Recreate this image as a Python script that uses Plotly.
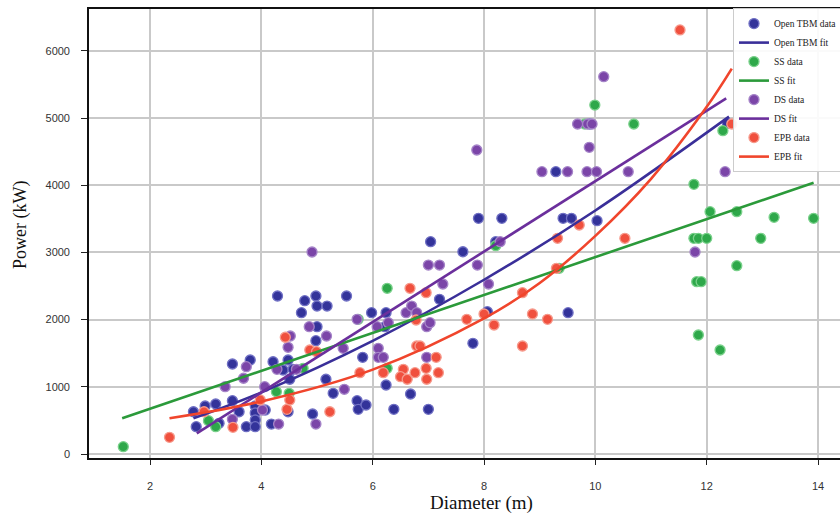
import plotly.graph_objects as go

# ---- data ----
open_x = [2.78, 2.83, 2.99, 3.18, 3.24, 3.48, 3.48, 3.60, 3.73, 3.80, 3.89, 3.89, 3.89, 3.89,
          4.07, 4.18, 4.21, 4.29, 4.39, 4.48, 4.48, 4.51, 4.57, 4.72, 4.78, 4.92, 4.98, 4.98,
          5.00, 5.00, 5.16, 5.18, 5.29, 5.53, 5.72, 5.74, 5.82, 5.88, 5.98, 6.22, 6.24, 6.24,
          6.38, 6.68, 7.00, 7.04, 7.20, 7.62, 7.80, 7.90, 8.06, 8.21, 8.32, 9.29, 9.42, 9.57,
          9.51, 9.90, 10.03, 12.37]
open_y = [629, 406, 714, 744, 457, 793, 1339, 629, 406, 1399, 714, 610, 506, 406,
          655, 446, 1373, 2351, 1250, 1399, 629, 1112, 1260, 2103, 2281, 595, 2351, 1686,
          2202, 1894, 1112, 2202, 903, 2351, 793, 665, 1439, 729, 2103, 1894, 2103, 1027,
          665, 893, 665, 3159, 2302, 3010, 1647, 3507, 2118, 3159, 3507, 4201, 3507, 3507,
          2103, 4911, 3472, 4921]

ss_x = [1.52, 3.05, 3.18, 4.27, 4.50, 4.75, 5.74, 6.26, 6.26, 8.21, 9.35, 9.81, 9.99,
        10.69, 12.29, 11.77, 12.06, 12.54, 13.21, 13.92, 11.77, 11.85, 12.00, 12.97, 12.54,
        11.82, 11.90, 11.85, 12.24]
ss_y = [109, 496, 406, 927, 903, 1275, 2004, 2466, 1275, 3100, 2763, 4911, 5193,
        4911, 4812, 4013, 3606, 3606, 3522, 3507, 3209, 3209, 3209, 3209, 2802,
        2564, 2564, 1771, 1548]

ds_x = [3.35, 3.48, 3.68, 3.73, 4.02, 4.06, 4.28, 4.31, 4.48, 4.52, 4.63, 4.86, 4.91, 4.98,
        5.17, 5.47, 5.49, 5.72, 6.08, 6.10, 6.10, 6.19, 6.28, 6.60, 6.70, 6.79, 6.97, 7.03,
        6.97, 7.00, 7.20, 7.26, 7.87, 7.88, 8.08, 8.29, 9.04, 9.50, 9.68, 9.86, 9.94, 9.89,
        9.85, 10.02, 10.15, 10.59, 11.79, 12.33]
ds_y = [1002, 516, 1127, 1299, 655, 1002, 1260, 446, 1588, 1756, 1260, 1894, 3006, 446,
        1756, 1573, 963, 2004, 1894, 1573, 1439, 1439, 1954, 2103, 2202, 2103, 1894, 1954,
        1439, 2812, 2812, 2530, 4524, 2812, 2530, 3159, 4201, 4201, 4911, 4911, 4911, 4564,
        4201, 4201, 5615, 4201, 3006, 4201]

epb_x = [2.35, 2.97, 3.49, 3.98, 4.46, 4.51, 4.43, 4.87, 4.99, 5.23, 5.77, 6.19, 6.55, 6.50,
         6.62, 6.76, 6.96, 6.97, 7.18, 6.79, 6.85, 7.14, 6.78, 6.67, 6.96, 7.69, 8.00, 8.18,
         8.87, 9.14, 8.69, 8.69, 9.30, 9.32, 9.71, 10.53, 11.52, 12.45]
epb_y = [248, 629, 397, 804, 665, 804, 1737, 1548, 1522, 629, 1210, 1210, 1260, 1150,
         1112, 1210, 1275, 1112, 1210, 1607, 1607, 1439, 1994, 2466, 2400, 2004, 2083, 1920,
         2083, 2004, 2400, 1607, 2763, 3210, 3408, 3210, 6310, 4911]

# fitted curves
open_fit_x = [2.78, 4, 6, 8, 10, 12.4]
open_fit_y = [531, 917, 1684, 2593, 3624, 5020]
ss_fit_x = [1.5, 13.92]
ss_fit_y = [531, 4037]
ds_fit_x = [2.84, 12.35]
ds_fit_y = [308, 5293]
epb_fit_x = [2.35, 4, 6, 8, 9, 10, 11, 12, 12.45]
epb_fit_y = [531, 782, 1256, 2018, 2545, 3246, 4095, 5166, 5735]

x_ticks = [2, 4, 6, 8, 10, 12, 14]
y_ticks = [0, 1000, 2000, 3000, 4000, 5000, 6000]

# ---- styles ----
series = [
    ("Open TBM", open_x, open_y, open_fit_x, open_fit_y, "#33339a", "#7070c4", "#3a2f99"),
    ("SS", ss_x, ss_y, ss_fit_x, ss_fit_y, "#2ea84a", "#79d08a", "#2b9a3a"),
    ("DS", ds_x, ds_y, ds_fit_x, ds_fit_y, "#7b45a8", "#a584c8", "#6b2f9c"),
    ("EPB", epb_x, epb_y, epb_fit_x, epb_fit_y, "#f0503e", "#f69a8c", "#f0452c"),
]

marker_traces, line_traces = [], []
rank = 1
for name, dx, dy, fx, fy, fill, edge, lc in series:
    marker_traces.append(go.Scatter(
        x=dx, y=dy, mode="markers", name=f"{name} data",
        marker=dict(size=10, color=fill, line=dict(color=edge, width=1.3)),
        legendrank=rank))
    rank += 1
    line_traces.append(go.Scatter(
        x=fx, y=fy, mode="lines", name=f"{name} fit",
        line=dict(color=lc, width=2.6, shape="spline"),
        legendrank=rank))
    rank += 1

fig = go.Figure(data=marker_traces + line_traces)

serif = "Liberation Serif, Times New Roman, serif"
tickfont = dict(family="Liberation Sans, Arial, sans-serif", size=11, color="#333333")
fig.update_layout(
    width=840, height=513,
    margin=dict(l=89, r=0, t=9, b=55, autoexpand=False),
    paper_bgcolor="white", plot_bgcolor="white",
    showlegend=True,
    legend=dict(x=0.8575, y=1.002, xanchor="left", yanchor="top",
                bgcolor="rgba(255,255,255,0.9)", bordercolor="#cccccc", borderwidth=1,
                font=dict(family=serif, size=9.5, color="#222222"),
                tracegroupgap=0, itemwidth=30),
    xaxis=dict(range=[0.904, 14.394], tickvals=x_ticks, ticktext=[str(v) for v in x_ticks],
               showgrid=True, gridcolor="#c9c9c9", gridwidth=1.5,
               showline=True, linecolor="#111111", linewidth=1.6, mirror=True,
               ticks="outside", ticklen=5, tickcolor="#222222", tickfont=tickfont,
               ticklabelstandoff=12, zeroline=False),
    yaxis=dict(range=[-59.5, 6622], tickvals=y_ticks, ticktext=[str(v) for v in y_ticks],
               showgrid=True, gridcolor="#c9c9c9", gridwidth=1.5,
               showline=True, linecolor="#111111", linewidth=1.6,
               ticks="outside", ticklen=6, tickcolor="#222222", tickfont=tickfont,
               ticklabelstandoff=9, zeroline=False),
    annotations=[
        dict(text="Diameter (m)", x=7.95, xref="x", y=0, yref="paper", yanchor="top",
             yshift=-32, showarrow=False,
             font=dict(family=serif, size=19, color="#111111")),
        dict(text="Power (kW)", x=0, xref="paper", xanchor="center", xshift=-68,
             y=3408, yref="y", yanchor="middle",
             textangle=-90, showarrow=False,
             font=dict(family=serif, size=18, color="#111111")),
    ],
)

fig.write_html("out.html")
